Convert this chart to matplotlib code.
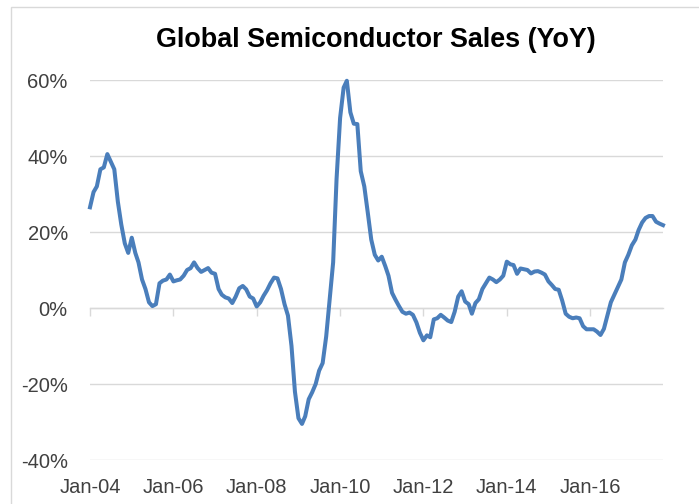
import pandas as pd
import matplotlib
matplotlib.use("Agg")
import matplotlib.pyplot as plt
import matplotlib.dates as mdates
from matplotlib.patches import Rectangle
from matplotlib.ticker import FuncFormatter

# monthly YoY change (%) of global semiconductor sales, Jan-2004 .. Oct-2017
yoy = [
    26.5, 30.5, 32.0, 36.5, 37.0, 40.5, 38.5, 36.5, 28.0, 22.0, 17.0, 14.5,   # 2004
    18.5, 14.5, 12.0, 7.5, 5.0, 1.5, 0.5, 1.0, 6.5, 7.2, 7.5, 8.8,            # 2005
    7.0, 7.3, 7.5, 8.5, 10.0, 10.5, 12.0, 10.5, 9.5, 10.0, 10.5, 9.3,         # 2006
    9.0, 5.0, 3.5, 2.8, 2.5, 1.3, 3.0, 5.2, 5.8, 4.9, 3.0, 2.5,               # 2007
    0.4, 1.5, 3.2, 4.7, 6.5, 8.0, 7.8, 5.0, 1.0, -2.0, -10.0, -22.0,          # 2008
    -29.0, -30.5, -28.5, -24.0, -22.2, -20.0, -16.5, -14.5, -7.5, 2.0, 12.0, 34.0,  # 2009
    50.0, 58.0, 59.8, 51.5, 48.5, 48.4, 36.0, 32.0, 25.0, 18.0, 14.0, 12.5,   # 2010
    13.5, 11.0, 8.5, 4.0, 2.2, 0.5, -1.0, -1.5, -1.2, -1.8, -3.8, -6.5,       # 2011
    -8.5, -7.2, -7.7, -3.0, -2.7, -1.8, -2.5, -3.3, -3.7, -1.0, 3.0, 4.4,     # 2012
    1.7, 1.0, -1.5, 1.3, 2.3, 5.0, 6.5, 8.0, 7.5, 6.8, 7.5, 8.5,              # 2013
    12.2, 11.5, 11.3, 9.0, 10.4, 10.2, 10.0, 9.1, 9.6, 9.7, 9.3, 8.8,         # 2014
    7.0, 6.0, 5.0, 4.8, 2.0, -1.5, -2.3, -2.7, -2.5, -2.7, -4.8, -5.6,        # 2015
    -5.6, -5.6, -6.2, -7.1, -5.5, -2.0, 1.5, 3.5, 5.5, 7.5, 12.0, 14.0,       # 2016
    16.5, 18.0, 20.5, 22.5, 23.7, 24.2, 24.2, 22.7, 22.2, 21.8,               # 2017
]
months = pd.date_range("2004-01-01", periods=len(yoy), freq="MS")
tick_dates = pd.to_datetime(["2004-01-01", "2006-01-01", "2008-01-01", "2010-01-01",
                             "2012-01-01", "2014-01-01", "2016-01-01"])
y_ticks = [-40, -20, 0, 20, 40, 60]

text_col = "#404040"
grid_col = "#D9D9D9"
font = ["Liberation Sans", "DejaVu Sans"]

fig = plt.figure(figsize=(6.99, 5.04), dpi=100)
ax = fig.add_axes([90 / 699, 1 - 460 / 504, 573 / 699, 380 / 504])

ax.plot(months, yoy, color="#4A7EBB", linewidth=2.9, solid_joinstyle="round",
        clip_on=False, zorder=3)

ax.set_xlim(months[0], months[-1])
ax.set_ylim(-40, 60)
ax.set_yticks(y_ticks)
ax.yaxis.set_major_formatter(FuncFormatter(lambda v, p: f"{v:.0f}%"))
ax.yaxis.grid(True, color=grid_col, linewidth=1)
ax.set_axisbelow(True)

ax.set_xticks(tick_dates)
ax.xaxis.set_major_formatter(mdates.DateFormatter("%b-%y"))

for s in ax.spines.values():
    s.set_visible(False)

ax.tick_params(axis="y", length=0, pad=16, labelsize=14.5, labelcolor=text_col)
ax.tick_params(axis="x", length=0, pad=13, labelsize=14.5, labelcolor=text_col)
for lab in ax.get_xticklabels() + ax.get_yticklabels():
    lab.set_family(font)

# horizontal axis line at 0% with outward tick marks
zero_axis = ax.secondary_xaxis(0.4)
zero_axis.set_xticks(tick_dates)
zero_axis.tick_params(axis="x", direction="out", length=6, width=1, color=grid_col,
                      labelbottom=False, labeltop=False)
zero_axis.spines["bottom"].set_color(grid_col)
zero_axis.spines["bottom"].set_linewidth(1)

fig.text(376 / 699, 1 - 40 / 504, "Global Semiconductor Sales (YoY)", ha="center",
         va="center", fontsize=19.4, fontweight="bold", color="black", family=font)

# chart area border (cropped on the right and bottom)
fig.patches.append(Rectangle((11 / 699, -0.1), 1.2, 1 - 7 / 504 + 0.1,
                             transform=fig.transFigure, fill=False,
                             edgecolor=grid_col, linewidth=1))

fig.savefig("out.png", dpi=100)
